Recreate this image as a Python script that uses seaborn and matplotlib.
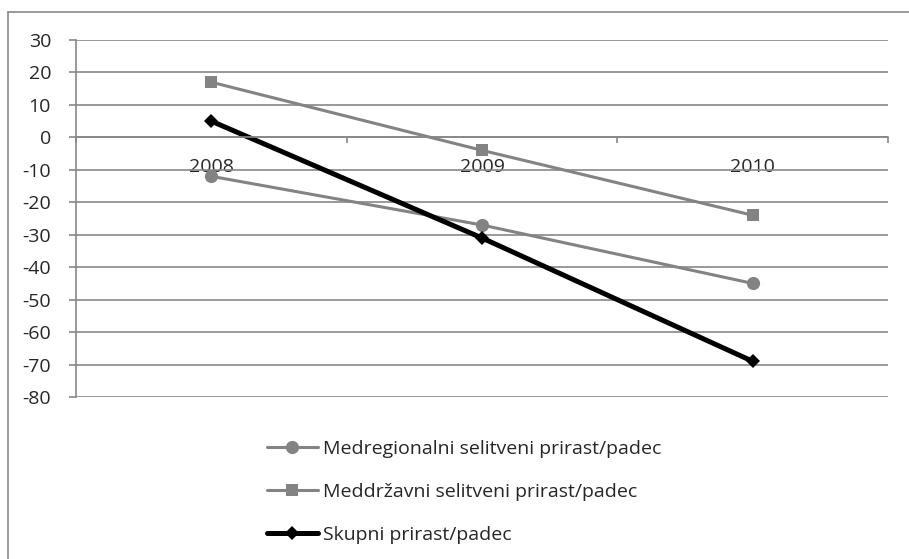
import numpy as np
import pandas as pd
import matplotlib.pyplot as plt
import seaborn as sns
from matplotlib.lines import Line2D

# =========================================================
# DATA
# =========================================================
years = ["2008", "2009", "2010"]
medregionalni = [-12, -27, -45]
meddrzavni = [17, -4, -24]
skupni = [5, -31, -69]

labels = [
    "Medregionalni selitveni prirast/padec",
    "Meddržavni selitveni prirast/padec",
    "Skupni prirast/padec",
]
y_ticks = list(range(-80, 31, 10))

# =========================================================
# STYLE
# =========================================================
sns.set_style("white")
plt.rcParams["font.family"] = ["Open Sans", "DejaVu Sans"]
plt.rcParams["font.size"] = 14
plt.rcParams["axes.unicode_minus"] = False

grid_col = "#878787"
gray = "#838383"

series = [
    (medregionalni, labels[0], gray, "o", 2.2, 9.5),
    (meddrzavni, labels[1], gray, "s", 2.2, 9),
    (skupni, labels[2], "black", "D", 3.6, 7.5),
]

fig = plt.figure(figsize=(9.09, 5.59), dpi=100)
ax = fig.add_axes([76 / 909, 1 - 397 / 559, (888 - 76) / 909, (397 - 40) / 559])

for vals, lab, col, mk, lw, ms in series:
    df = pd.DataFrame({"year": years, "value": vals})
    sns.lineplot(data=df, x="year", y="value", ax=ax, color=col, marker=mk,
                 linewidth=lw, markersize=ms, markeredgewidth=0,
                 label=lab, legend=False)

ax.set_xlim(-0.5, 2.5)
ax.set_ylim(-80, 30)
ax.set_yticks(y_ticks)
ax.yaxis.grid(True, color=grid_col, linewidth=1.2)
ax.set_axisbelow(True)
ax.set_xlabel("")
ax.set_ylabel("")

for s in ["top", "right"]:
    ax.spines[s].set_visible(False)
ax.spines["left"].set_color(grid_col)
ax.spines["left"].set_linewidth(1.2)
ax.spines["bottom"].set_position(("data", 0))
ax.spines["bottom"].set_color(grid_col)
ax.spines["bottom"].set_linewidth(1.2)

ax.set_xticks([0, 1, 2])
ax.set_xticklabels(years)
ax.set_xticks([-0.5, 0.5, 1.5, 2.5], minor=True)
ax.tick_params(axis="x", which="major", length=0, pad=14.5, labelsize=14)
ax.tick_params(axis="x", which="minor", length=4.5, width=1.2, color=grid_col,
               direction="out", bottom=True)
ax.tick_params(axis="y", length=5, width=1.2, color=grid_col, pad=13,
               labelsize=14, left=True)

# legend below the plot
handles = [Line2D([], [], color=col, marker=mk, linewidth=lw, markersize=ms,
                  markeredgewidth=0) for _, _, col, mk, lw, ms in series]
fig.legend(handles, labels, loc="upper left",
           bbox_to_anchor=(267 / 909, 1 - 440 / 559), frameon=False,
           handlelength=2.6, handletextpad=0.3, labelspacing=1.28,
           borderpad=0, borderaxespad=0, fontsize=14)

# outer chart frame (only left and top edges are inside the picture)
fig.add_artist(Line2D([8 / 909, 8 / 909], [0, 1 - 12 / 559],
                      transform=fig.transFigure, color=grid_col, linewidth=1.2))
fig.add_artist(Line2D([8 / 909, 1], [1 - 12 / 559, 1 - 12 / 559],
                      transform=fig.transFigure, color=grid_col, linewidth=1.2))

fig.savefig("out.png", dpi=100)
